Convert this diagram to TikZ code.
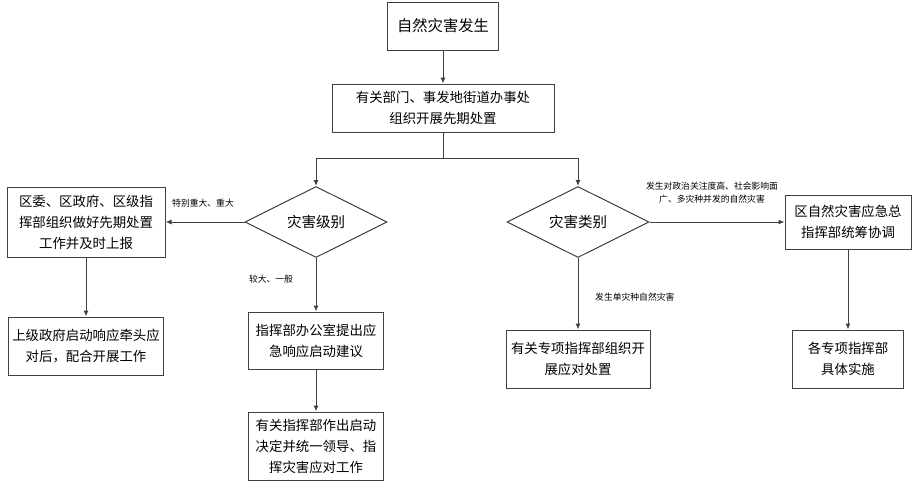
\documentclass[tikz,border=0pt]{standalone}
\usepackage{fontspec}
\newfontfamily\cjk{Noto Sans CJK SC}
\usetikzlibrary{shapes.geometric,arrows.meta}
\definecolor{linegray}{HTML}{404040}
\tikzset{
  box/.style={draw=linegray, line width=1pt, inner sep=0pt, align=center, font=\cjk\fontsize{13.4}{21}\selectfont},
  decision/.style={diamond, draw=linegray, line width=1pt, inner sep=0pt, aspect=2, minimum width=142pt, minimum height=71pt, font=\cjk\fontsize{14.5}{16}\selectfont},
  wire/.style={draw=linegray, line width=1pt},
  link/.style={wire, -{Latex[length=6pt,width=5pt]}},
  note/.style={inner sep=0pt, align=center, font=\cjk\fontsize{8.8}{13}\selectfont},
}

\begin{document}
\begin{tikzpicture}[x=1pt, y=-1pt]
                \useasboundingbox (0,0) rectangle (912,483);
                % Nodes, labels and links:
                \node[box, minimum width=111pt, minimum height=48pt, font=\cjk\fontsize{15.3}{18}\selectfont] (start) at (443,26) {自然灾害发生};
                \node[box, minimum width=222pt, minimum height=48pt] (prep) at (443,108) {有关部门、事发地街道办事处\\组织开展先期处置};
                \coordinate (split) at (443,158);
                \node[decision] (levelq) at (316,222) {灾害级别};
                \node[decision] (typeq) at (578,222) {灾害类别};
                \node[box, minimum width=158pt, minimum height=70pt] (report) at (86,222) {区委、区政府、区级指\\挥部组织做好先期处置\\工作并及时上报};
                \node[box, minimum width=155pt, minimum height=58pt] (upper) at (86,346) {上级政府启动响应牵头应\\对后，配合开展工作};
                \node[box, minimum width=135pt, minimum height=57pt] (office) at (316,340.5) {指挥部办公室提出应\\急响应启动建议};
                \node[box, minimum width=135pt, minimum height=68pt] (command) at (316,446) {有关指挥部作出启动\\决定并统一领导、指\\挥灾害应对工作};
                \node[box, minimum width=144pt, minimum height=58pt] (special) at (578,359) {有关专项指挥部组织开\\展应对处置};
                \node[box, minimum width=126pt, minimum height=54pt] (general) at (848,222) {区自然灾害应急总\\指挥部统筹协调};
                \node[box, minimum width=111pt, minimum height=58pt] (each) at (848,359) {各专项指挥部\\具体实施};
                \node[note] (majorlbl) at (203,203) {特别重大、重大};
                \node[note] (minorlbl) at (271,279) {较大、一般};
                \node[note, anchor=west] (singlelbl) at (595,297) {发生单灾种自然灾害};
                \node[note] (multilbl) at (712,192.5) {发生对政治关注度高、社会影响面\\广、多灾种并发的自然灾害};
                \draw[link] (start) -- (prep);
                \draw[wire] (prep.south) -- (split);
                \draw[link] (split) -| (levelq.north);
                \draw[link] (split) -| (typeq.north);
                \draw[link] (levelq.west) -- (report.east);
                \draw[link] (report) -- (upper);
                \draw[link] (levelq.south) -- (office.north);
                \draw[link] (office) -- (command);
                \draw[link] (typeq.south) -- (special.north);
                \draw[link] (typeq.east) -- (general.west);
                \draw[link] (general) -- (each);
            \end{tikzpicture}
\end{document}
